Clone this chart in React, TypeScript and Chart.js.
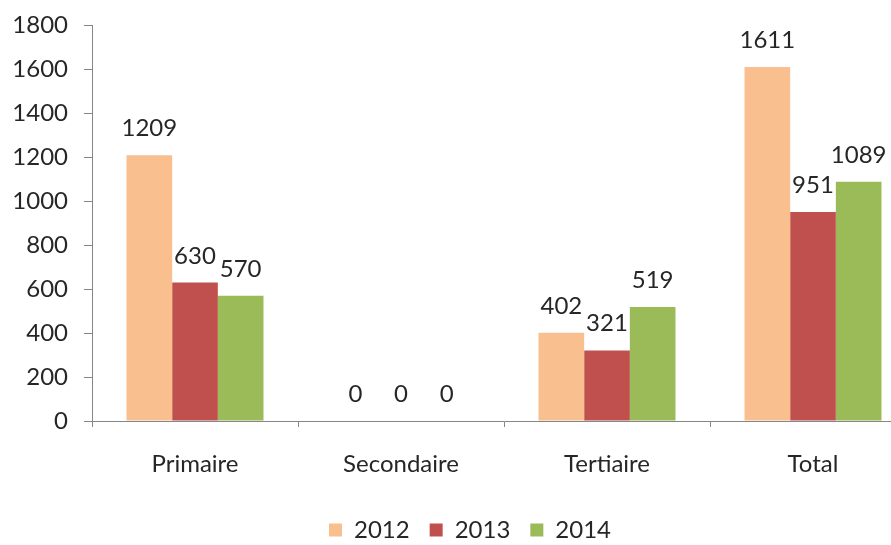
import React, { useEffect, useRef } from "react";
import { Chart, registerables } from "chart.js";

Chart.register(...registerables);

const categories = ["Primaire", "Secondaire", "Tertiaire", "Total"];
const seriesNames = ["2012", "2013", "2014"];
const values2012 = [1209, 0, 402, 1611];
const values2013 = [630, 0, 321, 951];
const values2014 = [570, 0, 519, 1089];
const colors = ["#F9BF8F", "#C0504D", "#9BBB59"];
const yTicks = [0, 200, 400, 600, 800, 1000, 1200, 1400, 1600, 1800];

const FONT = "Lato, 'Open Sans', sans-serif";
const FS = 24;

const dataLabelPlugin = {
  id: "dataLabels",
  afterDatasetsDraw(chart: any) {
    const ctx = chart.ctx;
    ctx.save();
    ctx.font = `${FS}px ${FONT}`;
    ctx.fillStyle = "#262626";
    ctx.textAlign = "center";
    ctx.textBaseline = "alphabetic";
    chart.data.datasets.forEach((ds: any, i: number) => {
      const meta = chart.getDatasetMeta(i);
      meta.data.forEach((bar: any, j: number) => {
        ctx.fillText(String(ds.data[j]), bar.x, bar.y - 19);
      });
    });
    ctx.restore();
  },
};

const legendShiftPlugin = {
  id: "legendShift",
  afterLayout(chart: any) {
    const lg = chart.legend;
    if (lg) {
      lg.left += 12;
      lg.right += 12;
    }
  },
};

export default function App() {
  const ref = useRef<HTMLCanvasElement | null>(null);
  useEffect(() => {
    if (!ref.current) return;
    const seriesValues = [values2012, values2013, values2014];
    const chart = new Chart(ref.current, {
      type: "bar",
      data: {
        labels: categories,
        datasets: seriesNames.map((name, i) => ({
          label: name,
          data: seriesValues[i],
          backgroundColor: colors[i],
          borderWidth: 0,
          categoryPercentage: 0.665,
          barPercentage: 1.0,
        })),
      },
      options: {
        responsive: false,
        animation: false,
        devicePixelRatio: 1,
        layout: { padding: { left: 0, right: 24, top: 0, bottom: -12 } },
        plugins: {
          legend: {
            position: "bottom",
            labels: {
              font: { family: FONT, size: FS },
              color: "#262626",
              boxWidth: 13,
              boxHeight: 13,
              padding: 20,
            },
          },
          tooltip: { enabled: false },
        },
        scales: {
          x: {
            afterFit: (axis: any) => {
              axis.height = 77;
            },
            grid: {
              display: true,
              drawOnChartArea: false,
              tickLength: 6,
              color: "#868686",
              offset: true,
            },
            border: { color: "#868686", width: 1 },
            ticks: {
              font: { family: FONT, size: FS },
              color: "#262626",
              padding: 23,
            },
          },
          y: {
            min: 0,
            max: 1800,
            afterFit: (axis: any) => {
              axis.width = 92;
            },
            afterBuildTicks: (axis: any) => {
              axis.ticks = yTicks.map((v) => ({ value: v }));
            },
            grid: {
              display: true,
              drawOnChartArea: false,
              tickLength: 8,
              color: "#868686",
            },
            border: { color: "#868686", width: 1 },
            ticks: {
              font: { family: FONT, size: FS },
              color: "#262626",
              padding: 16,
              callback: (v: any) => String(v),
            },
          },
        },
      },
      plugins: [dataLabelPlugin, legendShiftPlugin],
    });
    return () => chart.destroy();
  }, []);

  return (
    <div
      style={{
        position: "fixed",
        left: 0,
        top: 0,
        width: 891,
        height: 545,
        overflow: "hidden",
        background: "#fff",
      }}
    >
      <canvas
        ref={ref}
        width={940}
        height={545}
        style={{ display: "block", marginTop: -5 }}
      />
    </div>
  );
}
